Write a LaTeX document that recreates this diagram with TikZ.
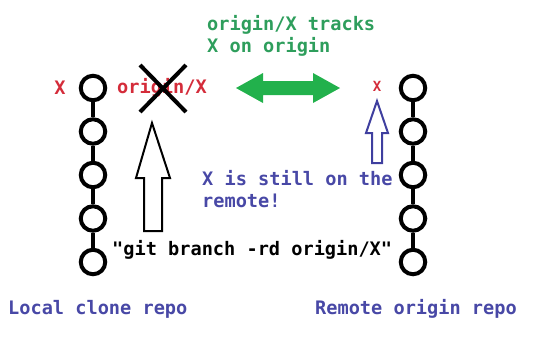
\documentclass[tikz,border=0pt]{standalone}
\usepackage{fontspec}
\setmonofont{DejaVu Sans Mono}
\definecolor{txtred}{HTML}{D42C3A}
\definecolor{txtgreen}{HTML}{2E9E5C}
\definecolor{arrgreen}{HTML}{22B14C}
\definecolor{txtblue}{HTML}{4848A6}
\definecolor{arrblue}{HTML}{3F3F9F}
\begin{document}
\begin{tikzpicture}[x=1bp,y=-1bp,
  commit/.style={circle,draw=black,line width=4bp,minimum size=24.5bp,inner sep=0pt},
  link/.style={line width=4bp},
  lbl/.style={font=\ttfamily\bfseries\fontsize{18.6bp}{22bp}\selectfont,inner sep=0pt,anchor=west},
  hollow/.style={line width=2bp,line join=miter}]
\useasboundingbox (0,0) rectangle (540,338);
% commits
\foreach \i/\y in {1/88,2/131.5,3/175,4/218.5,5/262}{
  \node[commit] (L\i) at (93,\y) {};
  \node[commit] (R\i) at (413,\y) {};
}
\foreach \a/\b in {1/2,2/3,3/4,4/5}{
  \draw[link] (L\a) -- (L\b);
  \draw[link] (R\a) -- (R\b);
}
% texts
\node[lbl,text=txtgreen] (t1) at (207,25) {origin/X tracks};
\node[lbl,text=txtgreen] (t2) at (207,47) {X on origin};
\node[lbl,text=txtred,anchor=center] (lx) at (60,88) {X};
\node[lbl,text=txtred] (ox) at (117,88) {origin/X};
\node[lbl,text=txtred,anchor=center,font=\ttfamily\bfseries\fontsize{14bp}{16bp}\selectfont] (rx) at (377,86) {X};
\node[lbl,text=txtblue] (b1) at (202,178) {X is still on the};
\node[lbl,text=txtblue] (b2) at (202,201) {remote!};
\node[lbl,text=black] (git) at (112,250) {"git branch -rd origin/X"};
\node[lbl,text=txtblue] (loc) at (8,309) {Local clone repo};
\node[lbl,text=txtblue] (rem) at (315,309) {Remote origin repo};
% cross
\draw[line width=4bp] (140,65) -- (186,112) (186,65) -- (140,112);
% green double arrow
\fill[arrgreen] (236,88) -- (263,73) -- (263,81) -- (313,81) -- (313,73) -- (340,88)
  -- (313,103) -- (313,95) -- (263,95) -- (263,103) -- cycle;
% black hollow arrow
\draw[hollow,black] (152,123) -- (170,178) -- (162,178) -- (162,231) -- (144,231)
  -- (144,178) -- (136,178) -- cycle;
% blue hollow arrow
\draw[hollow,arrblue] (377,101) -- (388,133) -- (382,133) -- (382,163) -- (372,163)
  -- (372,133) -- (366,133) -- cycle;
\end{tikzpicture}
\end{document}
